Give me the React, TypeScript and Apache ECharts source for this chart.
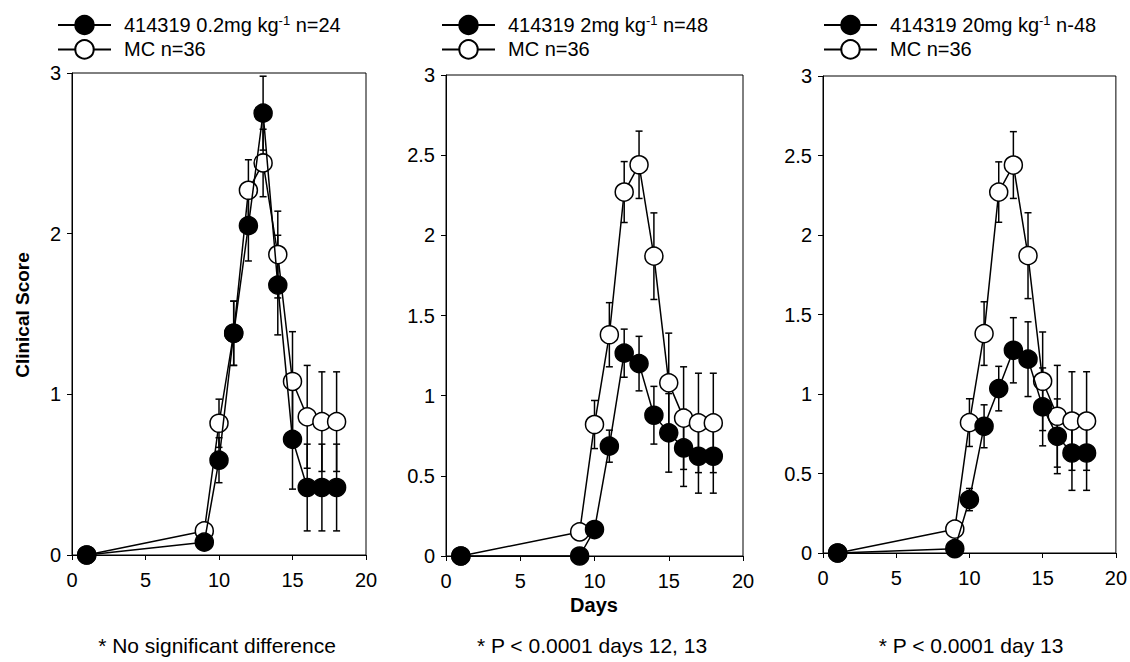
import React, { useEffect, useRef } from "react";
import * as echarts from "echarts";

const days = [1, 9, 10, 11, 12, 13, 14, 15, 16, 17, 18];

// Control group (MC n=36), open circles
const mcScore = [0, 0.15, 0.82, 1.38, 2.27, 2.44, 1.87, 1.08, 0.86, 0.83, 0.83];
const mcSE = [0, 0, 0.15, 0.2, 0.19, 0.21, 0.27, 0.31, 0.32, 0.31, 0.31];

// 414319 0.2 mg/kg, filled circles
const lowScore = [0, 0.08, 0.59, 1.38, 2.05, 2.75, 1.68, 0.72, 0.42, 0.42, 0.42];
const lowSE = [0, 0, 0.14, 0.2, 0.22, 0.23, 0.31, 0.31, 0.27, 0.27, 0.27];

// 414319 2 mg/kg
const midScore = [0, 0, 0.165, 0.685, 1.265, 1.2, 0.878, 0.768, 0.674, 0.622, 0.622];
const midSE = [0, 0, 0.03, 0.1, 0.15, 0.17, 0.18, 0.245, 0.24, 0.23, 0.23];

// 414319 20 mg/kg
const highScore = [0, 0.027, 0.336, 0.797, 1.034, 1.275, 1.219, 0.919, 0.734, 0.629, 0.629];
const highSE = [0, 0, 0.07, 0.135, 0.14, 0.205, 0.235, 0.245, 0.235, 0.235, 0.235];

const treatedNames = [
  "414319 0.2mg kg-1 n=24",
  "414319 2mg kg-1 n=48",
  "414319 20mg kg-1 n-48",
];
const mcName = "MC n=36";
const notes = [
  "* No significant difference",
  "* P < 0.0001 days 12, 13",
  "* P < 0.0001 day 13",
];
const xTicks = { min: 0, max: 20, interval: 5 };
const yIntervals = [1, 0.5, 0.5];

const FONT = "'Liberation Sans', Arial, Helvetica, sans-serif";

const grids = [
  { left: 72, top: 73, width: 294, height: 482 },
  { left: 446, top: 75, width: 297, height: 481 },
  { left: 823, top: 76, width: 294, height: 477 },
];
const legendLeft = [57, 441, 823];
const notesX = [217, 592, 971];

function errorSeries(idx: number, vals: number[], ses: number[]) {
  const data = days
    .map((d, i) => [d, vals[i] - ses[i], vals[i] + ses[i], ses[i]])
    .filter((r) => r[3] > 0);
  return {
    type: "custom",
    xAxisIndex: idx,
    yAxisIndex: idx,
    z: 1,
    silent: true,
    data,
    encode: { x: 0, y: [1, 2] },
    renderItem: (params: any, api: any) => {
      const x = api.value(0);
      const lo = api.value(1);
      const hi = api.value(2);
      const pHi = api.coord([x, hi]);
      const pLo = api.coord([x, lo]);
      const w = 3.5;
      const st = { stroke: "#000", lineWidth: 1.5 };
      return {
        type: "group",
        children: [
          { type: "line", shape: { x1: pHi[0], y1: pHi[1], x2: pLo[0], y2: pLo[1] }, style: st },
          { type: "line", shape: { x1: pHi[0] - w, y1: pHi[1], x2: pHi[0] + w, y2: pHi[1] }, style: st },
          { type: "line", shape: { x1: pLo[0] - w, y1: pLo[1], x2: pLo[0] + w, y2: pLo[1] }, style: st },
        ],
      };
    },
  };
}

function lineSeries(idx: number, name: string, vals: number[], filled: boolean) {
  return {
    type: "line",
    name,
    xAxisIndex: idx,
    yAxisIndex: idx,
    z: filled ? 3 : 2,
    data: days.map((d, i) => [d, vals[i]]),
    symbol: "circle",
    symbolSize: 18,
    showAllSymbol: true,
    lineStyle: { color: "#000", width: 1.5 },
    itemStyle: {
      color: filled ? "#000" : "#fff",
      borderColor: "#000",
      borderWidth: 1.5,
    },
  };
}

export default function App() {
  const ref = useRef<HTMLDivElement>(null);
  useEffect(() => {
    if (!ref.current) return;
    const chart = echarts.init(ref.current, undefined, { renderer: "svg" });
    const treatedVals = [lowScore, midScore, highScore];
    const treatedSE = [lowSE, midSE, highSE];
    const series: any[] = [];
    for (let i = 0; i < 3; i++) {
      series.push(errorSeries(i, mcScore, mcSE));
      series.push(errorSeries(i, treatedVals[i], treatedSE[i]));
      series.push(lineSeries(i, mcName, mcScore, false));
      series.push(lineSeries(i, treatedNames[i], treatedVals[i], true));
    }
    const axisCommon = {
      type: "value",
      splitLine: { show: false },
      axisLine: { show: true, lineStyle: { color: "#000", width: 1 } },
      axisTick: { show: true, inside: false, length: 5, lineStyle: { color: "#000" } },
      axisLabel: { color: "#000", fontSize: 20, fontFamily: FONT },
    };
    const option: any = {
      animation: false,
      backgroundColor: "#fff",
      grid: grids.map((g) => ({
        ...g,
        show: true,
        borderColor: "#000",
        borderWidth: 1,
        backgroundColor: "transparent",
      })),
      xAxis: grids.map((_, i) => ({
        ...axisCommon,
        gridIndex: i,
        min: xTicks.min,
        max: xTicks.max,
        interval: xTicks.interval,
        axisLabel: { ...axisCommon.axisLabel, margin: 15 },
      })),
      yAxis: grids.map((_, i) => ({
        ...axisCommon,
        gridIndex: i,
        min: 0,
        max: 3,
        interval: yIntervals[i],
        axisLabel: { ...axisCommon.axisLabel, margin: 11 },
      })),
      legend: grids.map((_, i) => ({
        data: [treatedNames[i], mcName],
        left: legendLeft[i],
        top: 14,
        padding: 0,
        orient: "vertical",
        itemWidth: 53,
        itemHeight: 23,
        itemGap: 4,
        selectedMode: false,
        formatter: (name: string) => name.replace("kg-1", "kg{sup|-1}"),
        textStyle: {
          color: "#000",
          fontSize: 20,
          fontFamily: FONT,
          padding: [0, 0, 0, 8],
          rich: {
            sup: { fontSize: 13, fontFamily: FONT, color: "#000", verticalAlign: "top", padding: [0, 0, 9, 0] },
          },
        },
      })),
      graphic: [
        {
          type: "text",
          x: 22,
          y: 315,
          rotation: Math.PI / 2,
          style: {
            text: "Clinical Score",
            fontSize: 19,
            fontWeight: "bold",
            fontFamily: FONT,
            fill: "#000",
            align: "center",
            verticalAlign: "middle",
          },
        },
        {
          type: "text",
          x: 594,
          y: 605,
          style: {
            text: "Days",
            fontSize: 20,
            fontWeight: "bold",
            fontFamily: FONT,
            fill: "#000",
            align: "center",
            verticalAlign: "middle",
          },
        },
        ...notes.map((t, i) => ({
          type: "text",
          x: notesX[i],
          y: 645,
          style: {
            text: t,
            fontSize: 21,
            fontFamily: FONT,
            fill: "#000",
            align: "center",
            verticalAlign: "middle",
          },
        })),
      ],
      series,
    };
    chart.setOption(option);
    return () => chart.dispose();
  }, []);
  return (
    <div
      ref={ref}
      style={{ position: "absolute", left: 0, top: 0, width: 1130, height: 662 }}
    />
  );
}
